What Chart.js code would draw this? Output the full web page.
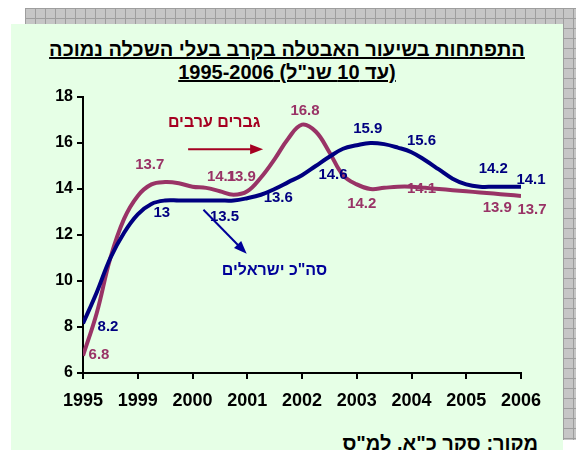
<!DOCTYPE html>
<html>
<head>
<meta charset="utf-8">
<script src="https://cdn.jsdelivr.net/npm/chart.js@4.4.1/dist/chart.umd.min.js"></script>
<style>
  body { margin: 0; background: #fff; }
  #wrap { position: relative; width: 576px; height: 450px; overflow: hidden; }
  .shadow {
    position: absolute;
    background-color: #c6c6c6;
    background-image:
      linear-gradient(to right, #9e9e9e 1px, transparent 1px),
      linear-gradient(to bottom, #9e9e9e 1px, transparent 1px);
    background-size: 10px 10px;
  }
  #panel { position: absolute; left: 11px; top: 24px; width: 552px; height: 426px; background: #e6ffe6; }
  #title {
    position: absolute; left: 11px; width: 552px; top: 38px;
    text-align: center; direction: rtl;
    font: bold 20px Arial, "Liberation Sans", "DejaVu Sans", sans-serif;
    line-height: 23px; color: #000; text-decoration: underline;
  }
  #source {
    position: absolute; right: 38px; top: 432px; direction: rtl; white-space: nowrap;
    font: bold 20px Arial, "Liberation Sans", "DejaVu Sans", sans-serif; color: #000;
  }
  canvas { position: absolute; left: 0; top: 0; }
</style>
</head>
<body>
<div id="wrap">
  <div class="shadow" style="left:25px; top:8px; width:551px; height:16px;"></div>
  <div class="shadow" style="left:563px; top:8px; width:13px; height:432px;"></div>
  <div id="panel"></div>
  <div id="title">התפתחות בשיעור האבטלה בקרב בעלי השכלה נמוכה<br>(עד 10 שנ"ל) 1995-2006</div>
  <div id="source">מקור: סקר כ"א, למ"ס</div>
  <canvas id="chart" width="576" height="450"></canvas>
</div>
<script>
// x axis tick labels (one per axis step)
const yearLabels = ['1995', '1999', '2000', '2001', '2002', '2003', '2004', '2005', '2006'];

// quarterly positions along the axis (0 = 1995 ... 8 = 2006)
const steps = [0, 0.25, 0.5, 0.75, 1, 1.25, 1.5, 1.75, 2, 2.25, 2.5, 2.75, 3, 3.25, 3.5, 3.75,
               4, 4.25, 4.5, 4.75, 5, 5.25, 5.5, 5.75, 6, 6.25, 6.5, 6.75, 7, 7.25, 7.5, 7.75, 8];

// total Israelis (smoothed curve)
const totalLine = [8.15, 9.5, 11.0, 12.1, 12.9, 13.35, 13.5, 13.5, 13.5, 13.5, 13.5, 13.5, 13.6, 13.75, 14.0, 14.3,
                   14.6, 15.0, 15.4, 15.75, 15.9, 16.0, 15.95, 15.8, 15.6, 15.25, 14.85, 14.45, 14.2, 14.1, 14.1, 14.1, 14.1];

// Arab men
const arabLine = [6.75, 8.6, 11.0, 12.7, 13.7, 14.2, 14.3, 14.25, 14.1, 14.05, 13.9, 13.75, 13.9, 14.5, 15.3, 16.2,
                  16.8, 16.5, 15.6, 14.6, 14.2, 14.0, 14.05, 14.1, 14.1, 14.05, 14.0, 13.95, 13.9, 13.85, 13.8, 13.75, 13.7];

// yearly values shown as data labels
const totalYearly = [8.2, 13, 13.5, 13.6, 14.6, 15.9, 15.6, 14.2, 14.1];
const arabYearly = [6.8, 13.7, 14.1, 13.9, 16.8, 14.2, 14.1, 13.9, 13.7];

// pixel nudges for the data labels
const totalOffsets = [[25, 4], [24, 1], [32, 16], [31, 0], [31, 0], [11, -16], [10, -11], [27, -16], [10, -7]];
const arabOffsets = [[16, 0], [12, -31], [29, -10], [-6, -14], [3, -14], [5, 19], [10, 2], [31, 17], [11, 14]];

const BLUE = '#000080';
const PLUM = '#993366';
const FONT = 'Arial, "Liberation Sans", "DejaVu Sans", sans-serif';

const toPoints = (vals) => vals.map((v, i) => ({ x: steps[i], y: v }));

const annotations = {
    id: 'annotations',
    afterDatasetsDraw(chart) {
        const ctx = chart.ctx;
        const xs = chart.scales.x;
        const ys = chart.scales.y;
        ctx.save();
        ctx.textAlign = 'center';
        ctx.textBaseline = 'middle';
        ctx.font = 'bold 15px ' + FONT;

        // data labels
        ctx.fillStyle = PLUM;
        arabYearly.forEach((v, i) => {
            ctx.fillText(String(v), xs.getPixelForValue(i) + arabOffsets[i][0], ys.getPixelForValue(v) + arabOffsets[i][1]);
        });
        ctx.fillStyle = BLUE;
        totalYearly.forEach((v, i) => {
            ctx.fillText(String(v), xs.getPixelForValue(i) + totalOffsets[i][0], ys.getPixelForValue(v) + totalOffsets[i][1]);
        });

        // series captions, right edge anchored
        ctx.direction = 'ltr';
        ctx.textAlign = 'right';
        ctx.font = 'bold 16px ' + FONT;
        ctx.fillStyle = '#a50021';
        ctx.fillText('גברים ערבים', xs.getPixelForValue(3.24), ys.getPixelForValue(16.9));
        ctx.fillStyle = '#000099';
        ctx.fillText('סה"כ ישראלים', xs.getPixelForValue(4.46), ys.getPixelForValue(10.45));

        // arrows
        drawArrow(ctx, xs.getPixelForValue(1.92), ys.getPixelForValue(15.73),
                  xs.getPixelForValue(3.29), ys.getPixelForValue(15.73), '#a50021');
        drawArrow(ctx, xs.getPixelForValue(2.2), ys.getPixelForValue(13.1),
                  xs.getPixelForValue(2.99), ys.getPixelForValue(11.18), '#000099');
        ctx.restore();
    }
};

function drawArrow(ctx, x1, y1, x2, y2, color) {
    const ang = Math.atan2(y2 - y1, x2 - x1);
    const head = 13;
    ctx.strokeStyle = color;
    ctx.fillStyle = color;
    ctx.lineWidth = 2;
    ctx.beginPath();
    ctx.moveTo(x1, y1);
    ctx.lineTo(x2 - Math.cos(ang) * head * 0.8, y2 - Math.sin(ang) * head * 0.8);
    ctx.stroke();
    ctx.beginPath();
    ctx.moveTo(x2, y2);
    ctx.lineTo(x2 - head * Math.cos(ang) + 5 * Math.sin(ang), y2 - head * Math.sin(ang) - 5 * Math.cos(ang));
    ctx.lineTo(x2 - head * Math.cos(ang) - 5 * Math.sin(ang), y2 - head * Math.sin(ang) + 5 * Math.cos(ang));
    ctx.closePath();
    ctx.fill();
}

new Chart(document.getElementById('chart').getContext('2d'), {
    type: 'line',
    data: {
        datasets: [{
            label: 'סה"כ ישראלים',
            data: toPoints(totalLine),
            borderColor: BLUE,
            borderWidth: 4,
            pointRadius: 0,
            tension: 0.4,
            fill: false
        }, {
            label: 'גברים ערבים',
            data: toPoints(arabLine),
            borderColor: PLUM,
            borderWidth: 4,
            pointRadius: 0,
            tension: 0.4,
            fill: false
        }]
    },
    options: {
        responsive: false,
        animation: false,
        layout: { padding: { left: 0, top: 97, right: 55, bottom: 0 } },
        plugins: { legend: { display: false }, tooltip: { enabled: false } },
        scales: {
            x: {
                type: 'linear',
                min: 0,
                max: 8,
                afterBuildTicks: (s) => { s.ticks = yearLabels.map((_, i) => ({ value: i })); },
                afterFit: (s) => { s.height = 77; },
                ticks: {
                    callback: (v) => yearLabels[v],
                    font: { family: FONT, size: 18, weight: 'bold' },
                    color: '#000',
                    padding: 11,
                    maxRotation: 0,
                    autoSkip: false
                },
                grid: { drawOnChartArea: false, drawTicks: true, tickLength: 6, color: '#000', lineWidth: 2 },
                border: { color: '#000', width: 2 }
            },
            y: {
                min: 6,
                max: 18,
                afterFit: (s) => { s.width = 83; },
                ticks: { stepSize: 2, font: { family: FONT, size: 16, weight: 'bold' }, color: '#000', padding: 4 },
                grid: { drawOnChartArea: false, drawTicks: true, tickLength: 6, color: '#000', lineWidth: 2 },
                border: { color: '#000', width: 2 }
            }
        }
    },
    plugins: [annotations]
});
</script>
</body>
</html>
